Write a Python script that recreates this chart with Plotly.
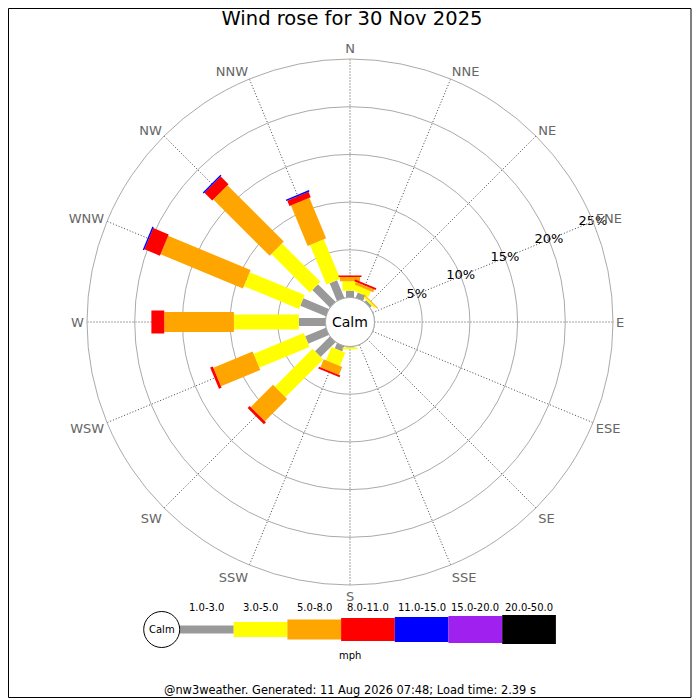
import numpy as np
import plotly.graph_objects as go

# compass sectors (degrees clockwise from north)
directions = ["N", "NNE", "NE", "ENE", "E", "ESE", "SE", "SSE",
              "S", "SSW", "SW", "WSW", "W", "WNW", "NW", "NNW"]
angles = [i * 22.5 for i in range(16)]

speed_bins = ["1.0-3.0", "3.0-5.0", "5.0-8.0", "8.0-11.0",
              "11.0-15.0", "15.0-20.0", "20.0-50.0"]

# % of the day per direction, one list per speed bin
pct_1_3 = [0.7, 0.6, 0.25, 0, 0, 0, 0, 0, 0.1, 0.6, 2.2, 2.35, 2.8, 2.9, 2.6, 2.0]
pct_3_5 = [1.0, 0.65, 0.2, 0, 0, 0, 0, 0, 0.2, 1.5, 5.6, 5.7, 6.8, 6.25, 5.7, 4.5]
pct_5_8 = [0.45, 0.3, 0.1, 0, 0, 0, 0, 0, 0, 0.9, 3.3, 4.45, 7.3, 9.35, 8.35, 4.6]
pct_8_11 = [0.15, 0.2, 0, 0, 0, 0, 0, 0, 0, 0.2, 0.3, 0.3, 1.35, 1.75, 1.15, 0.6]
pct_11_15 = [0, 0, 0, 0, 0, 0, 0, 0, 0, 0, 0, 0, 0, 0.15, 0.15, 0.15]
pct_15_20 = [0] * 16
pct_20_50 = [0] * 16

radial_ticks = [5, 10, 15, 20, 25]
radial_label_dir = 67.5  # ENE

# styling
colors = ["#999999", "#ffff00", "#ffa500", "#ff0000", "#0000ff", "#a020f0", "#000000"]
widths = [8, 15, 20, 23, 25, 27, 29]
FONT = "DejaVu Sans"

# the page puts the figure 8px in from the window corner
OFF = 8
W = H = 700 - OFF


def px(x):
    return (x - OFF) / W


def py(y):
    return (700 - y) / H


series = np.array([pct_1_3, pct_3_5, pct_5_8, pct_8_11, pct_11_15, pct_15_20, pct_20_50])
tops = np.cumsum(series, axis=0)
bottoms = tops - series

fig = go.Figure()

# one trace per speed bin, each direction a thick radial segment
for k in range(len(speed_bins)):
    r, th = [], []
    for d in range(len(directions)):
        if series[k, d] > 0:
            r += [bottoms[k, d], tops[k, d], None]
            th += [angles[d], angles[d], None]
    if not r:
        continue
    fig.add_trace(go.Scatterpolar(
        r=r, theta=th, mode="lines", connectgaps=False,
        line=dict(color=colors[k], width=widths[k]),
        hoverinfo="skip", showlegend=False,
    ))

# calm circle = edge of the hole
ring = np.linspace(0, 360, 181)
fig.add_trace(go.Scatterpolar(
    r=np.zeros_like(ring), theta=ring, mode="lines",
    line=dict(color="#999999", width=1), hoverinfo="skip", showlegend=False,
))

# percentage labels sitting on the ENE spoke
fig.add_trace(go.Scatterpolar(
    r=radial_ticks, theta=[radial_label_dir] * len(radial_ticks),
    mode="text", text=[f"{v}%" for v in radial_ticks],
    textposition="middle center",
    textfont=dict(size=13, color="black", family=FONT),
    hoverinfo="skip", showlegend=False,
))

# legend strip drawn on a hidden cartesian axis in window pixels
leg_x0, leg_step, leg_y = 180, 53.7, 629.5
for k in range(len(speed_bins)):
    x0 = leg_x0 + k * leg_step
    fig.add_trace(go.Scatter(
        x=[x0, x0 + leg_step], y=[leg_y, leg_y], mode="lines",
        line=dict(color=colors[k], width=widths[k]),
        hoverinfo="skip", showlegend=False,
    ))
    fig.add_annotation(x=x0 + leg_step / 2, y=607, xref="x", yref="y",
                       text=speed_bins[k], showarrow=False,
                       font=dict(size=10, color="black", family=FONT))
fig.add_trace(go.Scatter(
    x=[161.7], y=[leg_y], mode="markers",
    marker=dict(size=36, color="white", line=dict(color="black", width=1)),
    hoverinfo="skip", showlegend=False,
))
fig.add_annotation(x=161.7, y=leg_y, xref="x", yref="y", text="Calm",
                   showarrow=False, font=dict(size=10, color="black", family=FONT))
fig.add_annotation(x=350, y=655, xref="x", yref="y", text="mph",
                   showarrow=False, font=dict(size=10, color="black", family=FONT))
fig.add_annotation(x=350, y=690, xref="x", yref="y",
                   text="@nw3weather. Generated: 11 Aug 2026 07:48; Load time: 2.39 s",
                   showarrow=False, font=dict(size=11.4, color="black", family=FONT))
fig.add_annotation(x=350, y=322, xref="x", yref="y", text="Calm",
                   showarrow=False, font=dict(size=14, color="black", family=FONT))

# image frame
fig.add_shape(type="rect", xref="x", yref="y", x0=OFF + 0.5, y0=OFF + 0.5, x1=691, y1=697.5,
              line=dict(color="black", width=1))

fig.update_layout(
    width=W, height=H,
    margin=dict(l=0, r=0, t=0, b=0),
    paper_bgcolor="white", plot_bgcolor="white",
    font=dict(family=FONT),
    title=dict(text="Wind rose for 30 Nov 2025", x=px(352), xanchor="center",
               y=py(18), yanchor="middle",
               font=dict(size=19.5, color="black", family=FONT)),
    xaxis=dict(range=[OFF, 700], visible=False, domain=[0, 1], fixedrange=True),
    yaxis=dict(range=[700, OFF], visible=False, domain=[0, 1], fixedrange=True),
    polar=dict(
        domain=dict(x=[px(87), px(613)], y=[py(585), py(59)]),
        hole=24.5 / 263,
        bgcolor="white",
        angularaxis=dict(
            rotation=90, direction="clockwise",
            tickmode="array", tickvals=angles, ticktext=directions,
            tickfont=dict(size=13, color="#666666", family=FONT),
            ticks="", showline=True, linecolor="#aaaaaa", linewidth=1,
            showgrid=True, gridcolor="#444444", griddash="1px,2px", gridwidth=1,
        ),
        radialaxis=dict(
            range=[0, 25], tickmode="array", tickvals=radial_ticks,
            showticklabels=False, angle=22.5,
            ticks="", showline=False,
            showgrid=True, gridcolor="#aaaaaa", gridwidth=1,
        ),
    ),
)

fig.write_html("out.html")
